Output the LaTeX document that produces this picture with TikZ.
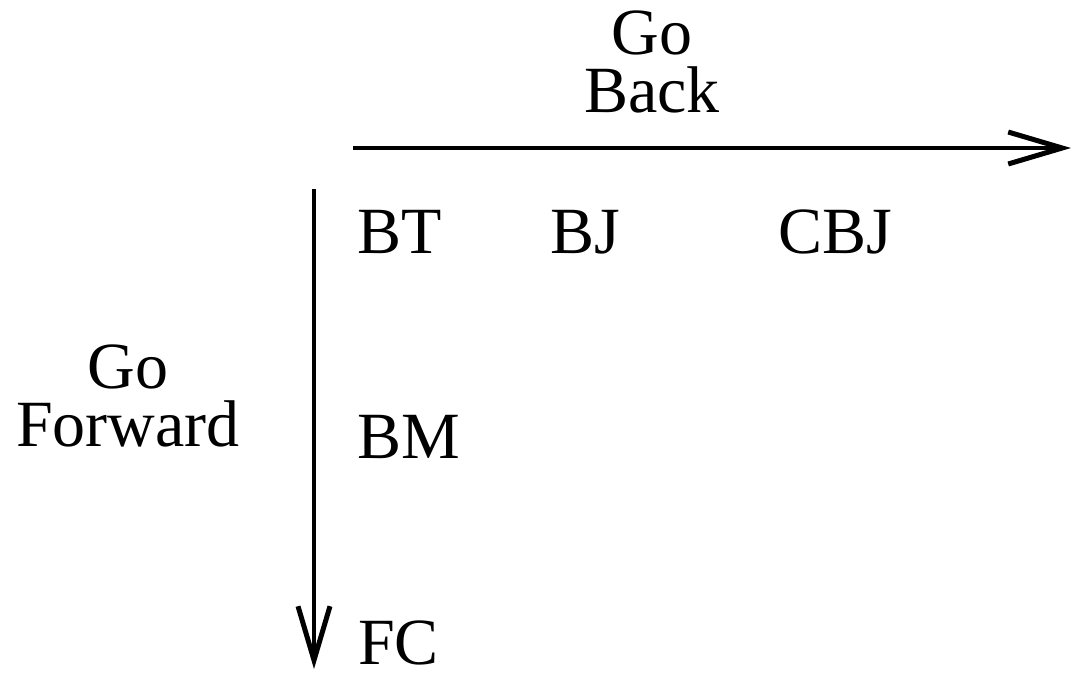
\documentclass[tikz,border=0pt]{standalone}
\usepackage{fontspec}
\setmainfont{Liberation Serif}
\usetikzlibrary{arrows.meta}

\begin{document}
\begin{tikzpicture}[x=1pt,y=-1pt,>={Straight Barb[length=54pt,width=32pt,line width=5pt]}]
 \tikzstyle{lbl}=[inner sep=0pt,font=\fontsize{66}{58}\selectfont]
 \tikzstyle{axis}=[->,line width=4pt]

\useasboundingbox (0,0) rectangle (1073,673);

\node[lbl,anchor=south,align=center] (back)  at (652,113)  {Go\\Back};
\node[lbl,anchor=south,align=center] (fwd)   at (128,447)  {Go\\Forward};

\node[lbl,anchor=base west] (BT)  at (357,253)  {BT};
\node[lbl,anchor=base west] (BJ)  at (550,253)  {BJ};
\node[lbl,anchor=base west] (CBJ) at (778,253)  {CBJ};
\node[lbl,anchor=base west] (BM)  at (357,458)  {BM};
\node[lbl,anchor=base west] (FC)  at (358,664)  {FC};

\coordinate (hstart) at (353,148);
\coordinate (hend)   at (1071,148);
\coordinate (vstart) at (314,189);
\coordinate (vend)   at (314,669);

\draw[axis] (hstart) -- (hend);
\draw[axis] (vstart) -- (vend);
\end{tikzpicture}
\end{document}
